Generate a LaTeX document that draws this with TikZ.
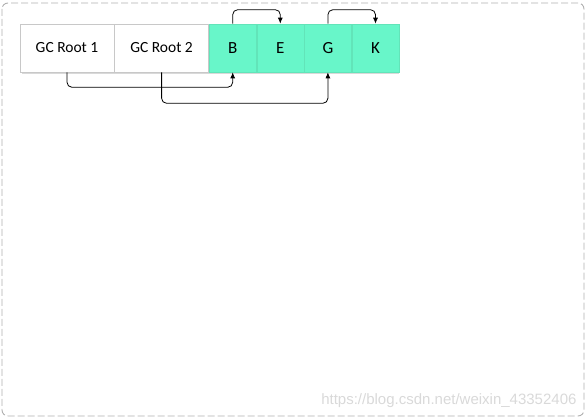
\documentclass[tikz,border=0pt]{standalone}
\usepackage{fontspec}
\setmainfont{Carlito}
\newfontfamily\markfont{Liberation Sans}
\usetikzlibrary{positioning,arrows.meta}
\definecolor{objgreen}{HTML}{68F6C9}
\definecolor{objline}{HTML}{62E4B9}
\definecolor{cellline}{HTML}{C8C8C8}
\definecolor{framegray}{HTML}{AFAFAF}
\definecolor{markgray}{HTML}{D9D9D9}
\tikzset{
 cell/.style={draw=cellline,line width=.6pt,minimum height=48pt,inner sep=0pt,font=\fontsize{15.5}{17}\selectfont},
 root/.style={cell,fill=white,minimum width=94pt},
 obj/.style={cell,draw=objline,fill=objgreen,minimum width=47pt,font=\fontsize{17}{19}\selectfont},
 ref/.style={-{Latex[length=6pt,width=5pt]},rounded corners=5pt,line width=.8pt}
}
\begin{document}
\begin{tikzpicture}[x=1pt,y=-1pt]
 \useasboundingbox (0,0) rectangle (587,419);
 \draw[framegray,line width=.9pt,dash pattern=on 7pt off 3pt,rounded corners=6pt] (2,3) rectangle (584,416);
 \fill[black,opacity=.15] (22,26) rectangle (399,74);
 \node[root] (r1) at (67,48) {GC Root 1};
 \node[root,right=0pt of r1] (r2) {GC Root 2};
 \node[obj,right=0pt of r2] (b) {B};
 \node[obj,right=0pt of b] (e) {E};
 \node[obj,right=0pt of e] (g) {G};
 \node[obj,right=0pt of g] (k) {K};
 \draw[ref] (b.north) -- ++(0,-14) -| (e.north);
 \draw[ref] (g.north) -- ++(0,-14) -| (k.north);
 \draw[ref] (r1.south) -- ++(0,15) -| (b.south);
 \draw[ref] (r2.south) -- ++(0,31) -| (g.south);
 \node[markgray,font=\markfont\fontsize{15}{17}\selectfont,anchor=east] (mark) at (580,401) {https://blog.csdn.net/weixin\_43352406};
\end{tikzpicture}
\end{document}
